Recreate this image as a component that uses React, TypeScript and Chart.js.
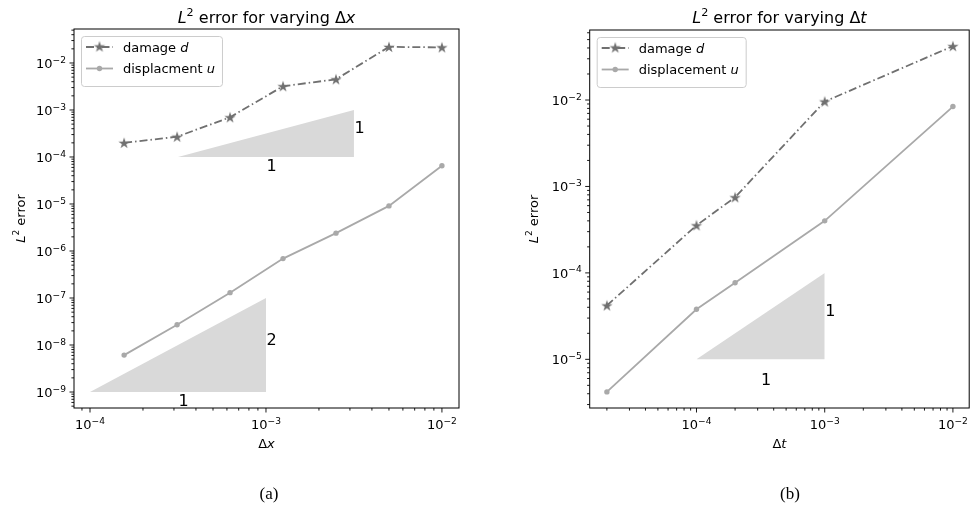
import React, { useEffect, useRef } from 'react';
import Chart from 'chart.js/auto';

// ---------- data ----------
const dxSteps = [1.5625e-4, 3.125e-4, 6.25e-4, 1.25e-3, 2.5e-3, 5e-3, 1e-2];
const damageDx = [2.0e-4, 2.7e-4, 7.0e-4, 3.2e-3, 4.5e-3, 2.2e-2, 2.15e-2];
const dispDx = [6.1e-9, 2.7e-8, 1.3e-7, 6.9e-7, 2.4e-6, 9.1e-6, 6.5e-5];

const dtSteps = [2e-5, 1e-4, 2e-4, 1e-3, 1e-2];
const damageDt = [4.2e-5, 3.55e-4, 7.5e-4, 9.6e-3, 4.2e-2];
const dispDt = [4.2e-6, 3.8e-5, 7.7e-5, 4.0e-4, 8.4e-3];

// slope triangles: hypotenuse end points (x, y)
const triDxSlope1X = [Math.pow(10, -3.5), Math.pow(10, -2.5)];
const triDxSlope1Y = [1e-4, 1e-3];
const triDxSlope2X = [1e-4, 1e-3];
const triDxSlope2Y = [1e-9, 1e-7];
const triDtSlope1X = [1e-4, 1e-3];
const triDtSlope1Y = [1e-5, 1e-4];

// slope annotations
const slopeTextDx = ['1', '1', '2', '1'];
const slopeTextDxX = [Math.pow(10, -2.5), 1e-3, 1e-3, Math.pow(10, -3.5)];
const slopeTextDxY = [Math.pow(10, -3.5), Math.pow(10, -4.3), 1e-8, Math.pow(10, -9.3)];
const slopeTextDt = ['1', '1'];
const slopeTextDtX = [1e-3, Math.pow(10, -3.5)];
const slopeTextDtY = [Math.pow(10, -4.5), Math.pow(10, -5.3)];

// axis ranges (log10 exponents)
const dxRangeX = [-4.091, -1.903];
const dxRangeY = [-9.34, -1.277];
const dtRangeX = [-4.833, -1.873];
const dtRangeY = [-5.563, -1.19];

const DAMAGE_COLOR = '#707070';
const DISP_COLOR = '#a9a9a9';
const TRI_COLOR = '#d9d9d9';
const FONT = '"DejaVu Sans", sans-serif';

type Seg = { t: string; it?: boolean; sup?: boolean };

function logTicks(min: number, max: number) {
  const out: { value: number; major: boolean; exp: number }[] = [];
  for (let e = Math.floor(Math.log10(min)) - 1; e <= Math.ceil(Math.log10(max)) + 1; e++) {
    for (let m = 1; m <= 9; m++) {
      const v = m * Math.pow(10, e);
      if (v >= min * 0.9999 && v <= max * 1.0001) out.push({ value: v, major: m === 1, exp: e });
    }
  }
  return out;
}

function fontFor(s: Seg, size: number) {
  return `${s.it ? 'italic ' : ''}${s.sup ? size * 0.7 : size}px ${FONT}`;
}

function measureSegs(ctx: CanvasRenderingContext2D, segs: Seg[], size: number) {
  let w = 0;
  segs.forEach((s) => {
    ctx.font = fontFor(s, size);
    w += ctx.measureText(s.t).width;
  });
  return w;
}

function drawSegs(ctx: CanvasRenderingContext2D, segs: Seg[], size: number, x: number, y: number, align: 'center' | 'left' | 'right') {
  const total = measureSegs(ctx, segs, size);
  let cx = align === 'center' ? x - total / 2 : align === 'right' ? x - total : x;
  ctx.textAlign = 'left';
  ctx.textBaseline = 'alphabetic';
  segs.forEach((s) => {
    ctx.font = fontFor(s, size);
    ctx.fillText(s.t, cx, s.sup ? y - size * 0.42 : y);
    cx += ctx.measureText(s.t).width;
  });
}

function powSegs(exp: number): Seg[] {
  return [{ t: '10' }, { t: (exp < 0 ? '\u2212' : '') + String(Math.abs(exp)), sup: true }];
}

function makeStar(color: string) {
  const c = document.createElement('canvas');
  c.width = 14;
  c.height = 14;
  const g = c.getContext('2d')!;
  const R = 6;
  const r = R * 0.382;
  g.beginPath();
  for (let i = 0; i < 10; i++) {
    const ang = -Math.PI / 2 + (i * Math.PI) / 5;
    const rad = i % 2 === 0 ? R : r;
    const px = 7 + rad * Math.cos(ang);
    const py = 7.5 + rad * Math.sin(ang);
    if (i === 0) g.moveTo(px, py);
    else g.lineTo(px, py);
  }
  g.closePath();
  g.fillStyle = color;
  g.fill();
  return c;
}

const DASH_DOT = [8, 3, 1.5, 3];

type PanelCfg = {
  xs: number[];
  damage: number[];
  disp: number[];
  tris: { x: number[]; y: number[] }[];
  texts: string[];
  textX: number[];
  textY: number[];
  rangeX: number[];
  rangeY: number[];
  yAxisWidth: number;
  padRight: number;
  padTop: number;
  title: Seg[];
  xLabel: Seg[];
  yLabelX: number;
  dispLabel: string;
};

function buildChart(canvas: HTMLCanvasElement, cfg: PanelCfg) {
  const star = makeStar(DAMAGE_COLOR);
  const triSets = cfg.tris.map((t) => ({
    type: 'line' as const,
    label: 'tri',
    data: t.x.map((x, i) => ({ x, y: t.y[i] })),
    borderWidth: 0,
    borderColor: 'rgba(0,0,0,0)',
    backgroundColor: TRI_COLOR,
    pointRadius: 0,
    fill: { value: t.y[0] },
    order: 10,
    tension: 0,
  }));

  const decor = {
    id: 'decor',
    afterDraw(chart: any) {
      const ctx: CanvasRenderingContext2D = chart.ctx;
      const a = chart.chartArea;
      const xs = chart.scales.x;
      const ys = chart.scales.y;
      ctx.save();
      // slope annotations
      ctx.fillStyle = '#000';
      cfg.texts.forEach((t, i) => {
        ctx.font = `16px ${FONT}`;
        ctx.textAlign = 'left';
        ctx.textBaseline = 'alphabetic';
        ctx.fillText(t, xs.getPixelForValue(cfg.textX[i]) + 0.5, ys.getPixelForValue(cfg.textY[i]));
      });
      // frame
      ctx.strokeStyle = '#000';
      ctx.lineWidth = 1;
      ctx.strokeRect(a.left, a.top, a.right - a.left, a.bottom - a.top);
      // tick marks and labels
      ctx.beginPath();
      const xt = logTicks(xs.min, xs.max);
      const yt = logTicks(ys.min, ys.max);
      xt.forEach((t) => {
        const p = xs.getPixelForValue(t.value);
        ctx.moveTo(p, a.bottom);
        ctx.lineTo(p, a.bottom + (t.major ? 4.5 : 2.6));
      });
      yt.forEach((t) => {
        const p = ys.getPixelForValue(t.value);
        ctx.moveTo(a.left, p);
        ctx.lineTo(a.left - (t.major ? 4.5 : 2.6), p);
      });
      ctx.lineWidth = 0.9;
      ctx.stroke();
      ctx.fillStyle = '#000';
      xt.filter((t) => t.major).forEach((t) => {
        drawSegs(ctx, powSegs(t.exp), 13, xs.getPixelForValue(t.value), a.bottom + 21, 'center');
      });
      yt.filter((t) => t.major).forEach((t) => {
        drawSegs(ctx, powSegs(t.exp), 13, a.left - 8, ys.getPixelForValue(t.value) + 5, 'right');
      });
      // title
      drawSegs(ctx, cfg.title, 16, (a.left + a.right) / 2, 23, 'center');
      // x label
      drawSegs(ctx, cfg.xLabel, 13, (a.left + a.right) / 2, 448, 'center');
      // y label
      ctx.save();
      ctx.translate(cfg.yLabelX, (a.top + a.bottom) / 2);
      ctx.rotate(-Math.PI / 2);
      drawSegs(ctx, [{ t: 'L', it: true }, { t: '2', sup: true }, { t: ' error' }], 13, 0, 4.5, 'center');
      ctx.restore();
      // legend
      const items = [
        { segs: [{ t: 'damage ' }, { t: 'd', it: true }] as Seg[], color: DAMAGE_COLOR, dash: DASH_DOT, star: true },
        { segs: [{ t: cfg.dispLabel + ' ' }, { t: 'u', it: true }] as Seg[], color: DISP_COLOR, dash: [] as number[], star: false },
      ];
      const bx = a.left + 7;
      const by = a.top + 7;
      const tw = Math.max(...items.map((it) => measureSegs(ctx, it.segs, 13)));
      const bw = 42 + tw + 7;
      const bh = 50;
      ctx.beginPath();
      (ctx as any).roundRect(bx + 0.5, by + 0.5, bw, bh, 3);
      ctx.fillStyle = 'rgba(255,255,255,0.8)';
      ctx.fill();
      ctx.strokeStyle = '#cccccc';
      ctx.lineWidth = 1;
      ctx.stroke();
      items.forEach((it, i) => {
        const ry = by + 11 + i * 21.5;
        ctx.strokeStyle = it.color;
        ctx.lineWidth = 1.8;
        ctx.setLineDash(it.dash);
        ctx.beginPath();
        ctx.moveTo(bx + 5, ry);
        ctx.lineTo(bx + 32, ry);
        ctx.stroke();
        ctx.setLineDash([]);
        if (it.star) {
          ctx.drawImage(star, bx + 18.5 - 7, ry - 7.5);
        } else {
          ctx.beginPath();
          ctx.arc(bx + 18.5, ry, 2.7, 0, Math.PI * 2);
          ctx.fillStyle = it.color;
          ctx.fill();
        }
        ctx.fillStyle = '#000';
        drawSegs(ctx, it.segs, 13, bx + 42, ry + 4.7, 'left');
      });
      ctx.restore();
    },
  };

  return new Chart(canvas, {
    type: 'line',
    data: {
      datasets: [
        {
          label: 'damage',
          data: cfg.xs.map((x, i) => ({ x, y: cfg.damage[i] })),
          borderColor: DAMAGE_COLOR,
          borderWidth: 1.8,
          borderDash: DASH_DOT,
          pointStyle: star as any,
          pointRadius: 6,
          fill: false,
          tension: 0,
          order: 1,
        },
        {
          label: 'displacement',
          data: cfg.xs.map((x, i) => ({ x, y: cfg.disp[i] })),
          borderColor: DISP_COLOR,
          backgroundColor: DISP_COLOR,
          borderWidth: 1.8,
          pointStyle: 'circle',
          pointRadius: 2.7,
          pointBorderWidth: 0,
          pointBackgroundColor: DISP_COLOR,
          fill: false,
          tension: 0,
          order: 2,
        },
        ...triSets,
      ] as any,
    },
    options: {
      responsive: false,
      animation: false,
      events: [],
      layout: { padding: { left: 0, right: cfg.padRight, top: cfg.padTop, bottom: 60 } },
      plugins: { legend: { display: false }, tooltip: { enabled: false }, title: { display: false } },
      scales: {
        x: {
          type: 'logarithmic',
          min: Math.pow(10, cfg.rangeX[0]),
          max: Math.pow(10, cfg.rangeX[1]),
          afterFit: (s: any) => {
            s.height = 40;
          },
          grid: { display: false, drawTicks: false, drawOnChartArea: false },
          border: { display: false },
          ticks: { display: false },
        },
        y: {
          type: 'logarithmic',
          min: Math.pow(10, cfg.rangeY[0]),
          max: Math.pow(10, cfg.rangeY[1]),
          afterFit: (s: any) => {
            s.width = cfg.yAxisWidth;
          },
          grid: { display: false, drawTicks: false, drawOnChartArea: false },
          border: { display: false },
          ticks: { display: false },
        },
      },
    } as any,
    plugins: [decor],
  });
}

export default function App() {
  const leftRef = useRef<HTMLCanvasElement>(null);
  const rightRef = useRef<HTMLCanvasElement>(null);

  useEffect(() => {
    const left = buildChart(leftRef.current!, {
      xs: dxSteps,
      damage: damageDx,
      disp: dispDx,
      tris: [
        { x: triDxSlope1X, y: triDxSlope1Y },
        { x: triDxSlope2X, y: triDxSlope2Y },
      ],
      texts: slopeTextDx,
      textX: slopeTextDxX,
      textY: slopeTextDxY,
      rangeX: dxRangeX,
      rangeY: dxRangeY,
      yAxisWidth: 74,
      padRight: 28,
      padTop: 29,
      title: [{ t: 'L', it: true }, { t: '2', sup: true }, { t: ' error for varying \u0394' }, { t: 'x', it: true }],
      xLabel: [{ t: '\u0394' }, { t: 'x', it: true }],
      yLabelX: 20,
      dispLabel: 'displacment',
    });
    const right = buildChart(rightRef.current!, {
      xs: dtSteps,
      damage: damageDt,
      disp: dispDt,
      tris: [{ x: triDtSlope1X, y: triDtSlope1Y }],
      texts: slopeTextDt,
      textX: slopeTextDtX,
      textY: slopeTextDtY,
      rangeX: dtRangeX,
      rangeY: dtRangeY,
      yAxisWidth: 102.7,
      padRight: 2.3,
      padTop: 30,
      title: [{ t: 'L', it: true }, { t: '2', sup: true }, { t: ' error for varying \u0394' }, { t: 't', it: true }],
      xLabel: [{ t: '\u0394' }, { t: 't', it: true }],
      yLabelX: 46,
      dispLabel: 'displacement',
    });
    return () => {
      left.destroy();
      right.destroy();
    };
  }, []);

  const caption: React.CSSProperties = {
    position: 'absolute',
    top: 484,
    width: 100,
    textAlign: 'center',
    fontFamily: '"Liberation Serif", serif',
    fontSize: 17,
    lineHeight: '20px',
    color: '#000',
  };

  return (
    <div style={{ position: 'absolute', left: 0, top: 0, width: 974, height: 508, overflow: 'hidden', background: '#fff' }}>
      <canvas ref={leftRef} width={487} height={508} style={{ position: 'absolute', left: 0, top: 0, width: 487, height: 508 }} />
      <canvas ref={rightRef} width={490} height={508} style={{ position: 'absolute', left: 487, top: 0, width: 490, height: 508 }} />
      <div style={{ ...caption, left: 219 }}>(a)</div>
      <div style={{ ...caption, left: 740 }}>(b)</div>
    </div>
  );
}
